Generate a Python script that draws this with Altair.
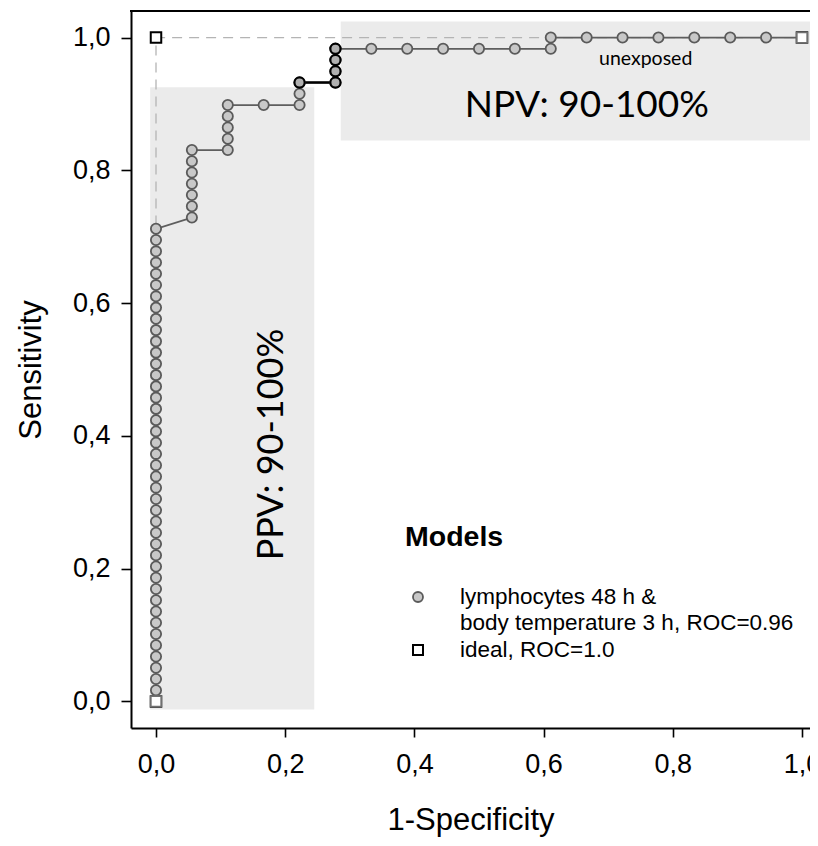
import altair as alt
import pandas as pd

N_NEG = 18
N_POS = 59

# ROC curve of the model, read as counts: false positives (of 18) and true positives (of 59)
model_fp = [0, 0, 0, 0, 0, 0, 0, 0, 0, 0, 0, 0, 0, 0, 0, 0, 0, 0, 0, 0, 0, 0,
            0, 0, 0, 0, 0, 0, 0, 0, 0, 0, 0, 0, 0, 0, 0, 0, 0, 0, 0, 0, 0,
            1, 1, 1, 1, 1, 1, 1,
            2, 2, 2, 2, 2,
            3,
            4, 4, 4,
            5, 5, 5, 5,
            6, 7, 8, 9, 10, 11,
            11, 12, 13, 14, 15, 16, 17, 18]
model_tp = [0, 1, 2, 3, 4, 5, 6, 7, 8, 9, 10, 11, 12, 13, 14, 15, 16, 17, 18, 19, 20, 21,
            22, 23, 24, 25, 26, 27, 28, 29, 30, 31, 32, 33, 34, 35, 36, 37, 38, 39, 40, 41, 42,
            43, 44, 45, 46, 47, 48, 49,
            49, 50, 51, 52, 53,
            53,
            53, 54, 55,
            55, 56, 57, 58,
            58, 58, 58, 58, 58, 58,
            59, 59, 59, 59, 59, 59, 59, 59]

# points drawn with a black outline
hl_fp = [4, 5, 5, 5, 5]
hl_tp = [55, 55, 56, 57, 58]

# ideal classifier
ideal_x = [0.0, 0.0, 1.0]
ideal_y = [0.0, 1.0, 1.0]

# shaded zones
zone_names = ["PPV", "NPV"]
zone_x1 = [-0.009, 0.286]
zone_x2 = [0.245, 1.10]
zone_y1 = [-0.012, 0.845]
zone_y2 = [0.925, 1.024]

# annotations
ann_text = ["NPV: 90-100%", "unexposed"]
ann_x = [0.667, 0.758]
ann_y = [0.897, 0.968]
ppv_text = ["PPV: 90-100%"]
ppv_x = [0.18]
ppv_y = [0.387]

legend_title = "Models"
legend_lines = ["lymphocytes 48 h &", "body temperature 3 h, ROC=0.96", "ideal, ROC=1.0"]

tick_vals = [0.0, 0.2, 0.4, 0.6, 0.8, 1.0]

W, H = 679, 717
ARIAL = "Liberation Sans"
CAL = "Lato"

model = pd.DataFrame({
    "x": [v / N_NEG for v in model_fp],
    "y": [v / N_POS for v in model_tp],
    "order": list(range(len(model_fp))),
})
inner = model.iloc[1:-1]
ends = model.iloc[[0, len(model) - 1]]
hl = pd.DataFrame({"x": [v / N_NEG for v in hl_fp], "y": [v / N_POS for v in hl_tp],
                   "order": list(range(len(hl_fp)))})
ideal = pd.DataFrame({"x": ideal_x, "y": ideal_y, "order": [0, 1, 2]})
zones = pd.DataFrame({"name": zone_names, "x": zone_x1, "x2": zone_x2, "y": zone_y1, "y2": zone_y2})
ann = pd.DataFrame({"t": ann_text, "x": ann_x, "y": ann_y})
ppv = pd.DataFrame({"t": ppv_text, "x": ppv_x, "y": ppv_y})

label_expr = "replace(format(datum.value, '.1f'), '.', ',')"
xs = alt.Scale(domain=[-0.0387, 1.0124], nice=False, zero=False)
ys = alt.Scale(domain=[-0.04, 1.04], nice=False, zero=False)
xaxis = alt.Axis(values=tick_vals, labelExpr=label_expr, title="1-Specificity", grid=False,
                 domainColor="black", domainWidth=2, tickColor="black", tickWidth=1.6, tickSize=9,
                 labelFont=ARIAL, labelFontSize=27, labelColor="black", labelPadding=14,
                 titleFont=ARIAL, titleFontSize=31, titleFontWeight="normal", titleColor="black",
                 titlePadding=28, labelFlush=False)
yaxis = alt.Axis(values=tick_vals, labelExpr=label_expr, title="Sensitivity", grid=False,
                 domainColor="black", domainWidth=2, tickColor="black", tickWidth=1.6, tickSize=10,
                 labelFont=ARIAL, labelFontSize=27, labelColor="black", labelPadding=11,
                 titleFont=ARIAL, titleFontSize=31, titleFontWeight="normal", titleColor="black",
                 titlePadding=25, labelFlush=False)

X = alt.X("x:Q", scale=xs, axis=xaxis)
Y = alt.Y("y:Q", scale=ys, axis=yaxis)

rects = alt.Chart(zones).mark_rect(color="#ebebeb", clip=True).encode(
    x=X, x2="x2:Q", y=Y, y2="y2:Q")

ann_layer = alt.Chart(ann).mark_text(font=CAL, color="black", align="center", baseline="middle").encode(
    x=X, y=Y, text="t:N",
    size=alt.Size("t:N", scale=alt.Scale(domain=ann_text, range=[37, 19.5]), legend=None))

ppv_layer = alt.Chart(ppv).mark_text(font=CAL, color="black", align="center", baseline="middle",
                                     angle=270, fontSize=36).encode(x=X, y=Y, text="t:N")

ideal_line = alt.Chart(ideal).mark_line(color="#b4b4b4", strokeWidth=1.3, strokeDash=[10, 7]).encode(
    x=X, y=Y, order="order:Q")
ideal_pts = alt.Chart(ideal).mark_point(shape="square", filled=False, fill="white", fillOpacity=1,
                                        stroke="black", strokeWidth=2, size=110, opacity=1).encode(x=X, y=Y)

model_line = alt.Chart(model).mark_line(color="#5e5e5e", strokeWidth=1.8).encode(
    x=X, y=Y, order="order:Q")
hl_line = alt.Chart(hl).mark_line(color="black", strokeWidth=2.4).encode(x=X, y=Y, order="order:Q")

model_pts = alt.Chart(inner).mark_point(shape="circle", filled=True, fill="#c8c8c8", stroke="#5a5a5a",
                                        strokeWidth=1.8, size=105, opacity=1).encode(x=X, y=Y)
hl_pts = alt.Chart(hl).mark_point(shape="circle", filled=True, fill="#b0b0b0", stroke="black",
                                  strokeWidth=2.2, size=105, opacity=1).encode(x=X, y=Y)
end_pts = alt.Chart(ends).mark_point(shape="square", filled=False, fill="white", fillOpacity=1,
                                     stroke="#707070", strokeWidth=1.8, size=110, opacity=1).encode(x=X, y=Y)

top_frame = alt.Chart(zones).mark_rule(color="black", strokeWidth=2).encode(
    x=alt.value(-1), x2=alt.value(W + 2), y=alt.value(0))

leg_df = pd.DataFrame({"t": [legend_title]})
leg_title = alt.Chart(leg_df).mark_text(font=ARIAL, fontSize=28.5, fontWeight="bold", color="black",
                                        align="left", baseline="middle").encode(
    x=alt.value(274), y=alt.value(526), text="t:N")

leg_rows = [(legend_lines[0], 586), (legend_lines[1], 612), (legend_lines[2], 639)]
leg_texts = [
    alt.Chart(pd.DataFrame({"t": [txt]})).mark_text(font=ARIAL, fontSize=22.5, color="black",
                                                    align="left", baseline="middle").encode(
        x=alt.value(329), y=alt.value(py), text="t:N")
    for txt, py in leg_rows
]
leg_circle = alt.Chart(leg_df).mark_point(shape="circle", filled=True, fill="#c8c8c8", stroke="#5a5a5a",
                                          strokeWidth=1.8, size=100, opacity=1).encode(
    x=alt.value(287), y=alt.value(586))
leg_square = alt.Chart(leg_df).mark_point(shape="square", filled=False, fill="white", fillOpacity=1,
                                          stroke="black", strokeWidth=2, size=100, opacity=1).encode(
    x=alt.value(287), y=alt.value(639))

chart = alt.layer(
    rects, ann_layer, ppv_layer, ideal_line, ideal_pts, model_line, hl_line,
    model_pts, hl_pts, end_pts, top_frame, leg_title, *leg_texts, leg_circle, leg_square
).properties(
    width=W, height=H,
    autosize=alt.AutoSizeParams(type="none"),
    padding={"left": 123, "top": 3, "right": 0, "bottom": 110},
    background="white",
).configure_view(stroke=None)

chart.save("out.html", embed_options={"renderer": "svg", "actions": False})
